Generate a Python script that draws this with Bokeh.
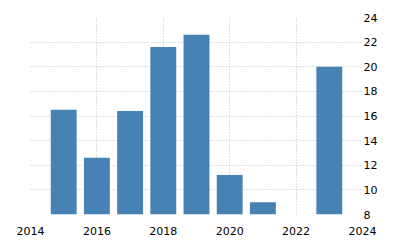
from bokeh.plotting import figure
from bokeh.models import Range1d, FixedTicker
from bokeh.embed import file_html
from bokeh.resources import INLINE

years = [2015, 2016, 2017, 2018, 2019, 2020, 2021, 2023]
values = [16.5, 12.6, 16.4, 21.6, 22.6, 11.2, 9.0, 20.0]
x_ticks = [2014, 2016, 2018, 2020, 2022, 2024]
y_ticks = [8, 10, 12, 14, 16, 18, 20, 22, 24]

p = figure(width=400, height=250, output_backend="svg", toolbar_location=None,
           x_range=Range1d(2014, 2024), y_range=Range1d(8, 24),
           y_axis_location="right",
           min_border_left=30, min_border_right=38, min_border_top=17, min_border_bottom=36)
p.outline_line_color = None
p.background_fill_color = "white"
p.border_fill_color = "white"

p.vbar(x=years, top=values, bottom=8, width=0.78, color="#4682b4", line_color=None)

for ax in (p.xaxis[0], p.yaxis[0]):
    ax.axis_line_color = None
    ax.major_tick_line_color = None
    ax.minor_tick_line_color = None
    ax.major_tick_out = 0
    ax.major_tick_in = 0
    ax.minor_tick_out = 0
    ax.major_label_text_font = "DejaVu Sans"
    ax.major_label_text_font_size = "11px"
    ax.major_label_text_color = "#000000"

p.xaxis[0].ticker = FixedTicker(ticks=x_ticks)
p.yaxis[0].ticker = FixedTicker(ticks=y_ticks)
p.xaxis[0].major_label_standoff = 12
p.yaxis[0].major_label_standoff = 1

for g in (p.xgrid[0], p.ygrid[0]):
    g.grid_line_color = "#c0c0c0"
    g.grid_line_dash = "1 2"
    g.grid_line_width = 1
p.xgrid[0].ticker = FixedTicker(ticks=x_ticks)
p.ygrid[0].ticker = FixedTicker(ticks=y_ticks)

open("out.html", "w").write(file_html(p, INLINE))
